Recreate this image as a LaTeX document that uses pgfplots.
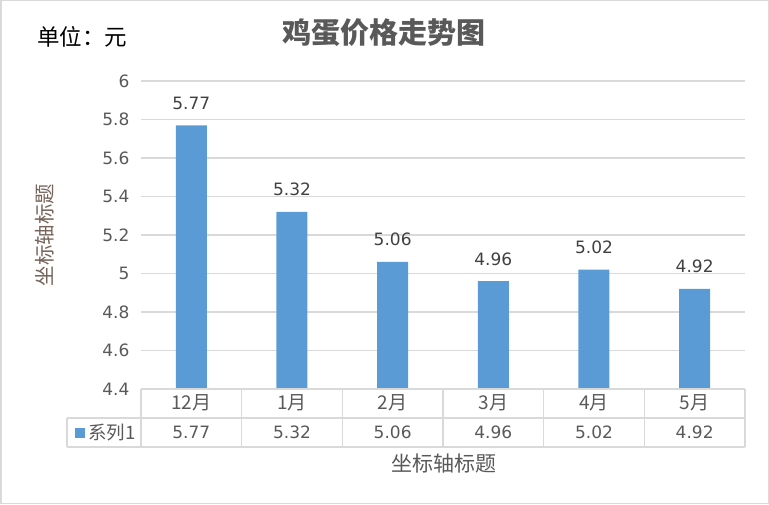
\documentclass[border=0pt]{standalone}
\usepackage{pgfplots}
\pgfplotsset{compat=1.18}
\usepackage{fontspec}
\setmainfont{DejaVu Sans}
\newfontfamily\cjk{Noto Sans CJK SC}
\definecolor{barblue}{HTML}{5B9BD5}
\definecolor{gridgray}{HTML}{D9D9D9}
\definecolor{txtgray}{HTML}{595959}
\definecolor{lblgray}{HTML}{404040}
\definecolor{ylabcol}{HTML}{76645A}

\begin{document}
\begin{tikzpicture}[x=1pt,y=1pt]
\useasboundingbox (0,0) rectangle (769,504);
\draw[gridgray, line width=1.5pt] (0.75,0.75) rectangle (768.25,503.25);

\begin{axis}[
  at={(141pt,115pt)}, anchor=south west,
  width=604pt, height=308pt, scale only axis,
  ybar, bar width=31pt,
  xmin=-0.5, xmax=5.5, ymin=4.4, ymax=6,
  xtick=data,
  xticklabels={{{\cjk\fontsize{19}{20}\selectfont 12月}\\[9pt]5.77},{{\cjk\fontsize{19}{20}\selectfont 1月}\\[9pt]5.32},{{\cjk\fontsize{19}{20}\selectfont 2月}\\[9pt]5.06},
               {{\cjk\fontsize{19}{20}\selectfont 3月}\\[9pt]4.96},{{\cjk\fontsize{19}{20}\selectfont 4月}\\[9pt]5.02},{{\cjk\fontsize{19}{20}\selectfont 5月}\\[9pt]4.92}},
  ytick={4.4,4.6,4.8,5,5.2,5.4,5.6,5.8,6},
  axis line style={draw=none},
  major tick length=0pt,
  ymajorgrids, grid style={gridgray, line width=1.3pt},
  /pgf/number format/assume math mode=true,
  yticklabel style={font=\fontsize{17}{20}\selectfont, text=txtgray, xshift=-8pt},
  xticklabel style={font=\fontsize{17}{20}\selectfont, text=txtgray, align=center, anchor=north, yshift=-2pt},
  nodes near coords,
  nodes near coords style={font=\fontsize{17}{20}\selectfont, text=lblgray, anchor=base, yshift=16pt},
  clip=false,
]
\addplot[fill=barblue, draw=none] coordinates {(0,5.77) (1,5.32) (2,5.06) (3,4.96) (4,5.02) (5,4.92)};
\end{axis}

% data table grid
\draw[gridgray, line width=1.3pt] (141,115) -- (745,115);
\draw[gridgray, line width=1.3pt] (67,86) -- (745,86);
\draw[gridgray, line width=1.3pt] (67,57) -- (745,57);
\draw[gridgray, line width=1.3pt] (67,57) -- (67,86);
\foreach \k in {0,...,6} {
  \draw[gridgray, line width=1.3pt] ({141+\k*604/6},57) -- ({141+\k*604/6},115);
}
\fill[barblue] (75,66) rectangle (85,76);
\node[anchor=west, font=\cjk\fontsize{18.5}{20}\selectfont, text=txtgray, inner sep=1pt] at (87,71) {系列1};

% titles
\node[font=\cjk\bfseries\fontsize{29}{30}\selectfont, text=txtgray] at (384,471) {鸡蛋价格走势图};
\node[anchor=west, font=\cjk\fontsize{22.5}{24}\selectfont, text=black, inner sep=0pt] at (37,467) {单位：元};
\node[rotate=90, font=\cjk\fontsize{20.5}{22}\selectfont, text=ylabcol] at (45,269) {坐标轴标题};
\node[font=\cjk\fontsize{21}{22}\selectfont, text=txtgray] at (444,40) {坐标轴标题};
\end{tikzpicture}
\end{document}
